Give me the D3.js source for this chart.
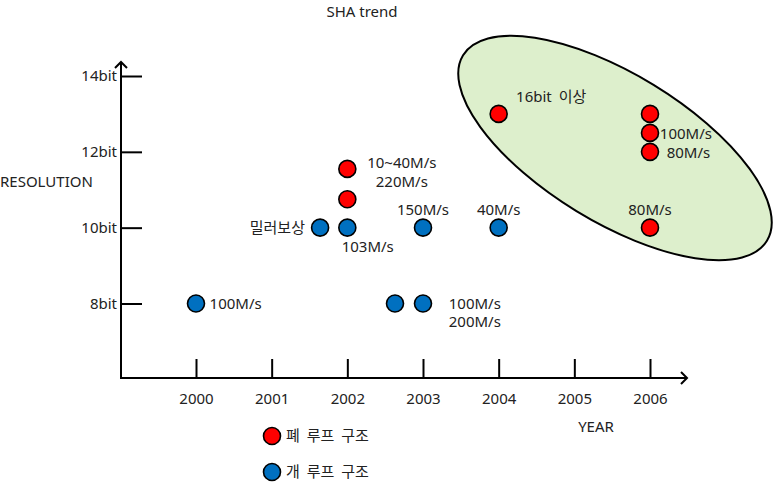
<!DOCTYPE html>
<html><head><meta charset="utf-8">
<script src="https://cdn.jsdelivr.net/npm/d3@7"></script>
<style>
body{margin:0;background:#fff;}
text{font-family:"Noto Sans","Noto Sans CJK KR",sans-serif;font-size:15px;fill:#222;}
</style></head>
<body><svg id="c" width="774" height="485"></svg>
<script>
const yearTicks = [2000, 2001, 2002, 2003, 2004, 2005, 2006];
const bitTicks = [8, 10, 12, 14];
const bitLabels = ["8bit", "10bit", "12bit", "14bit"];
// 개 루프 구조 (open loop)
const openYears = [2000, 2001.64, 2002, 2002.63, 2003, 2003, 2004];
const openBits  = [8, 10, 10, 8, 8, 10, 10];
// 폐 루프 구조 (closed loop)
const closedYears = [2002, 2002, 2004, 2006, 2006, 2006, 2006];
const closedBits  = [11.55, 10.75, 13, 13, 12.5, 12, 10];
// annotations: text, year, bits, anchor
const noteText   = ["100M/s", "밀러보상", "103M/s", "10~40M/s", "220M/s", "150M/s", "40M/s", "100M/s", "200M/s", "16bit 이상", "100M/s", "80M/s", "80M/s"];
const noteYear   = [2000.18, 2001.44, 2002.27, 2002.72, 2002.72, 2003.0, 2004.0, 2003.34, 2003.34, 2004.23, 2006.13, 2006.22, 2006.0];
const noteBits   = [8, 10, 9.49, 11.7, 11.2, 10.47, 10.47, 8, 7.51, 13.45, 12.47, 11.97, 10.47];
const noteAnchor = ["start", "end", "middle", "middle", "middle", "middle", "middle", "start", "start", "start", "start", "start", "middle"];
const legendText = ["폐 루프 구조", "개 루프 구조"];
const legendColor = ["#FF0000", "#0070C0"];

const svg = d3.select("#c");
const x = d3.scaleLinear().domain([2000, 2006]).range([196, 650]);
const y = d3.scaleLinear().domain([8, 14]).range([303.5, 76]);

// highlight ellipse
svg.append("ellipse")
  .attr("cx", 615).attr("cy", 148).attr("rx", 178).attr("ry", 74)
  .attr("transform", "rotate(31.4 615 148)")
  .attr("fill", "#DDEFCC").attr("stroke", "#000").attr("stroke-width", 2);

// axes lines with arrows
const ax = svg.append("g").attr("stroke", "#000").attr("stroke-width", 2).attr("fill", "none");
ax.append("line").attr("x1", 121).attr("y1", 379).attr("x2", 121).attr("y2", 62);
ax.append("path").attr("d", "M115,68 L121,62 L127,68");
ax.append("line").attr("x1", 120).attr("y1", 378).attr("x2", 687).attr("y2", 378);
ax.append("path").attr("d", "M681,372 L687,378 L681,384");

const gy = svg.append("g").attr("transform", "translate(121,0)")
  .call(d3.axisLeft(y).tickValues(bitTicks).tickFormat((d, i) => bitLabels[i]).tickSize(-21).tickPadding(4));
const gx = svg.append("g").attr("transform", "translate(0,378)")
  .call(d3.axisBottom(x).tickValues(yearTicks).tickFormat(d3.format("d")).tickSize(-19).tickPadding(15));
[gy, gx].forEach(g => {
  g.select(".domain").remove();
  g.selectAll(".tick line").attr("stroke", "#000").attr("stroke-width", 2);
  g.selectAll(".tick text").attr("font-size", 15).attr("fill", "#222")
    .style("font-family", '"Noto Sans","Noto Sans CJK KR",sans-serif');
});

// points
svg.append("g").selectAll("circle").data(openYears).join("circle")
  .attr("cx", (d) => x(d)).attr("cy", (d, i) => y(openBits[i])).attr("r", 8.5)
  .attr("fill", legendColor[1]).attr("stroke", "#000").attr("stroke-width", 1.6);
svg.append("g").selectAll("circle").data(closedYears).join("circle")
  .attr("cx", (d) => x(d)).attr("cy", (d, i) => y(closedBits[i])).attr("r", 8.5)
  .attr("fill", legendColor[0]).attr("stroke", "#000").attr("stroke-width", 1.6);

// annotations
svg.append("g").selectAll("text").data(noteText).join("text")
  .attr("x", (d, i) => x(noteYear[i])).attr("y", (d, i) => y(noteBits[i]))
  .attr("dy", "0.35em").attr("text-anchor", (d, i) => noteAnchor[i])
  .attr("word-spacing", 3).text(d => d);

// titles
svg.append("text").attr("x", 362).attr("y", 12).attr("dy", "0.35em").attr("text-anchor", "middle").text("SHA trend");
svg.append("text").attr("x", 0).attr("y", 182).attr("dy", "0.35em").text("RESOLUTION");
svg.append("text").attr("x", 596).attr("y", 427).attr("dy", "0.35em").attr("text-anchor", "middle").text("YEAR");

// legend
const lg = svg.append("g").selectAll("g").data(legendText).join("g")
  .attr("transform", (d, i) => `translate(272,${436 + i * 36})`);
lg.append("circle").attr("r", 8.5).attr("fill", (d, i) => legendColor[i]).attr("stroke", "#000").attr("stroke-width", 1.6);
lg.append("text").attr("x", 14).attr("dy", "0.35em").attr("word-spacing", 3).text(d => d);
</script></body></html>
